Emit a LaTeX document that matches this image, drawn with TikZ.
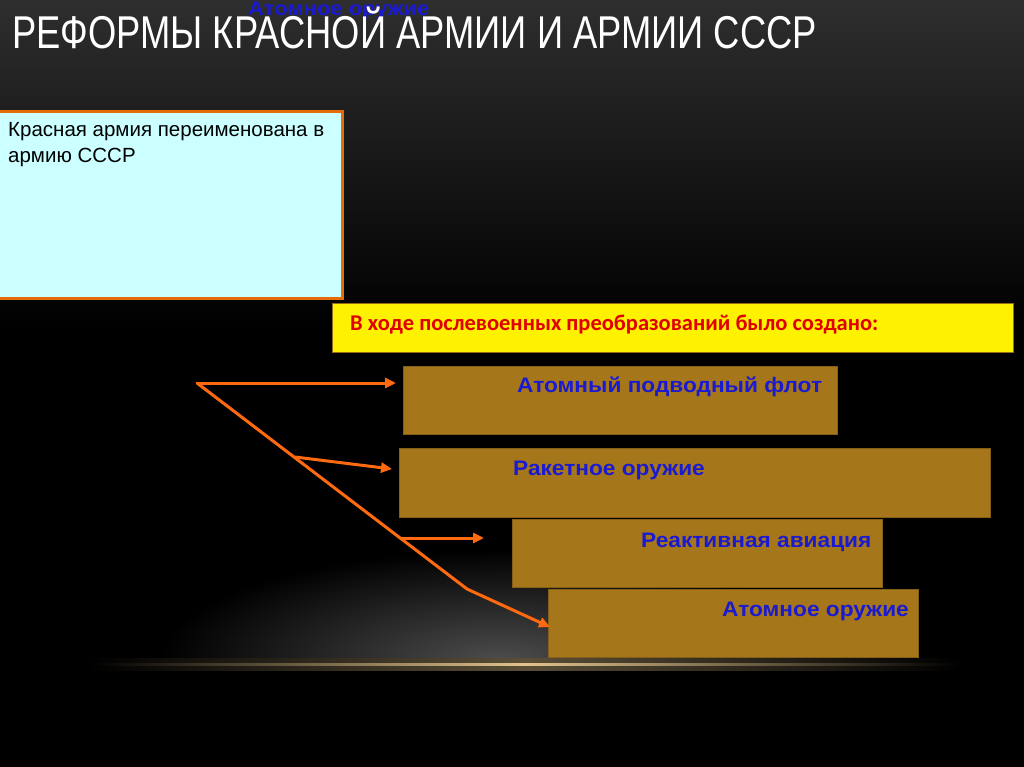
\documentclass[tikz,border=0pt]{standalone}
\usepackage{fontspec}
\setmainfont{Liberation Sans}
\newfontfamily\carlito{Carlito}
\usetikzlibrary{arrows.meta}
\definecolor{arrowor}{HTML}{FF6A10}
\definecolor{boxor}{HTML}{E46C0A}
\definecolor{cyanfill}{HTML}{CCFFFF}
\definecolor{brownfill}{HTML}{A6771A}
\definecolor{bluetxt}{HTML}{1A1AD0}
\definecolor{redtxt}{HTML}{E00000}
\definecolor{glow}{HTML}{E2C48C}
\newcommand{\wide}[1]{\scalebox{1.08}[1]{#1}}
\tikzset{
  brownbox/.style={fill=brownfill, draw=brownfill!80!black, line width=0.8pt},
  bluelabel/.style={anchor=base west, inner sep=0pt, text=bluetxt, font=\fontsize{21}{24}\selectfont\bfseries},
  arr/.style={draw=arrowor, line width=3pt, -{Triangle[length=11pt,width=10pt]}},
  ln/.style={draw=arrowor, line width=3pt, line cap=round, line join=round}
}
\begin{document}
\begin{tikzpicture}[x=1pt,y=-1pt]
\useasboundingbox (0,0) rectangle (1024,767);
% background
\fill[black] (0,0) rectangle (1024,767);
\shade[top color=black!82, bottom color=black] (0,0) rectangle (1024,330);
\shade[inner color=black!70, outer color=black] (500,660) ellipse [x radius=340, y radius=110];
\fill[black] (0,664) rectangle (1024,767);
\shade[left color=black, right color=black, middle color=glow] (90,662) rectangle (960,666);
\shade[left color=black, right color=black, middle color=glow!40!black] (90,658) rectangle (960,662);
\shade[left color=black, right color=black, middle color=glow!40!black] (90,666) rectangle (960,670);

% blue top text
\node[anchor=base west, inner sep=0pt, text=bluetxt, font=\fontsize{20}{22}\selectfont\bfseries] (toptxt) at (248,16) {\scalebox{1.1}[1]{Атомное оружие}};
% title
\node[anchor=base west, inner sep=0pt, text=white] (title) at (12,49) {\scalebox{0.79}[1]{\fontsize{46}{50}\selectfont РЕФОРМЫ КРАСНОЙ АРМИИ И АРМИИ СССР}};

% cyan box
\draw[fill=cyanfill, draw=boxor, line width=3pt] (-2,112) rectangle (342,298);
\node[anchor=base west, inner sep=0pt, font=\fontsize{20.5}{26}\selectfont] (cyantxt) at (8,137) {Красная армия переименована в};
\node[anchor=base west, inner sep=0pt, font=\fontsize{20.5}{26}\selectfont] (cyantxt2) at (8,163) {армию СССР};

% yellow box
\draw[fill=yellow, draw=brownfill!90!black, line width=1pt] (332,303) rectangle (1013,352);
\node[anchor=base west, inner sep=0pt, text=redtxt, font=\carlito\fontsize{22.5}{24}\selectfont\bfseries] (ytxt) at (350,330) {В ходе послевоенных преобразований было создано:};

% brown boxes
\draw[brownbox] (403,366) rectangle (837,434);
\draw[brownbox] (399,448) rectangle (990,517);
\draw[brownbox] (512,519) rectangle (882,587);
\draw[brownbox] (548,589) rectangle (918,657);
\node[bluelabel] (b1) at (517,392) {\wide{Атомный подводный флот}};
\node[bluelabel] (b2) at (513,475) {\wide{Ракетное оружие}};
\node[bluelabel] (b3) at (641,547) {\wide{Реактивная авиация}};
\node[bluelabel] (b4) at (722,616) {\wide{Атомное оружие}};

% arrows
\coordinate (A) at (197,383);
\coordinate (B) at (295,457);
\coordinate (C) at (400,538);
\coordinate (D) at (467,589);
\coordinate (T1) at (396,383);
\coordinate (T2) at (392,469);
\coordinate (T3) at (484,538);
\coordinate (T4) at (550,627);
\draw[ln] (A) -- (D);
\draw[arr] (A) -- (T1);
\draw[arr] (B) -- (T2);
\draw[arr] (C) -- (T3);
\draw[arr, line join=round] (D) -- (T4);
\end{tikzpicture}
\end{document}
